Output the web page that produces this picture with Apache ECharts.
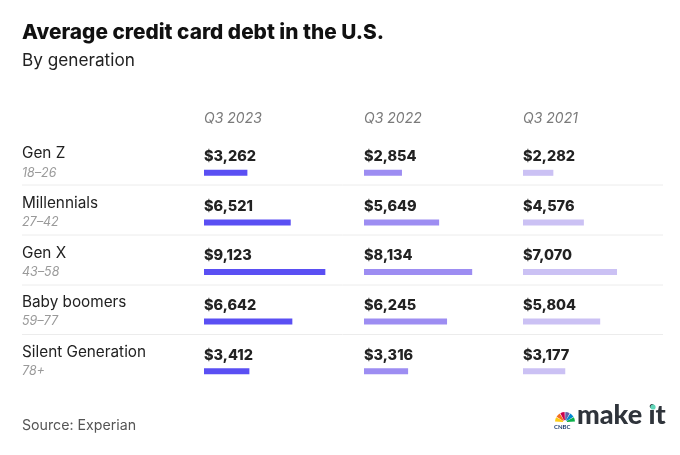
<!DOCTYPE html>
<html>
<head>
<meta charset="utf-8">
<script src="https://cdn.jsdelivr.net/npm/echarts@6/dist/echarts.min.js"></script>
<style>html,body{margin:0;padding:0;background:#fff}#c{width:680px;height:455px}</style>
</head>
<body>
<div id="c"></div>
<script>
const generations = ['Gen Z', 'Millennials', 'Gen X', 'Baby boomers', 'Silent Generation'];
const ages = ['18–26', '27–42', '43–58', '59–77', '78+'];
const periods = ['Q3 2023', 'Q3 2022', 'Q3 2021'];
const q3_2023 = [3262, 6521, 9123, 6642, 3412];
const q3_2022 = [2854, 5649, 8134, 6245, 3316];
const q3_2021 = [2282, 4576, 7070, 5804, 3177];
const seriesValues = [q3_2023, q3_2022, q3_2021];
const colors = ['#5a4ff3', '#9d8df2', '#cbc1f4'];

const FONT = 'Inter, Lato, sans-serif';
const gridLefts = [204, 364, 523];
const gridTop = 148, gridHeight = 248, gridWidth = 133;

const chart = echarts.init(document.getElementById('c'), null, {renderer: 'canvas'});

const grids = gridLefts.map(l => ({left: l, top: gridTop, width: gridWidth, height: gridHeight}));
const xAxes = gridLefts.map((l, i) => ({
  gridIndex: i, type: 'value', min: 0, max: 10000, show: false
}));
const yAxes = gridLefts.map((l, i) => ({
  gridIndex: i, type: 'category', data: generations, inverse: true,
  axisLine: {show: false}, axisTick: {show: false}, splitLine: {show: false},
  axisLabel: i === 0 ? {
    show: true, margin: 182, align: 'left', verticalAlign: 'middle',
    padding: [0, 0, 20, 0],
    formatter: (v, idx) => '{n|' + v + '}\n{a|' + ages[idx] + '}',
    rich: {
      n: {fontFamily: FONT, fontSize: 15.3, color: '#222', lineHeight: 20},
      a: {fontFamily: FONT, fontSize: 12.5, fontStyle: 'italic', color: '#9a9a9a', lineHeight: 18}
    }
  } : {show: false}
}));

const series = seriesValues.map((vals, i) => ({
  type: 'bar', xAxisIndex: i, yAxisIndex: i, data: vals, barWidth: 6,
  itemStyle: {color: colors[i]}, silent: true,
  label: {
    show: true, position: [0, -13], align: 'left', verticalAlign: 'middle',
    formatter: p => '$' + p.value.toLocaleString('en-US'),
    fontFamily: FONT, fontSize: 14.5, fontWeight: 800, color: '#222'
  }
}));

const titles = [
  {text: 'Average credit card debt in the U.S.', left: 22, top: 22, padding: 0,
   textStyle: {fontFamily: FONT, fontSize: 20.8, fontWeight: 800, color: '#111'}},
  {text: 'By generation', left: 22, top: 52, padding: 0,
   textStyle: {fontFamily: FONT, fontSize: 17.2, fontWeight: 'normal', color: '#222'}},
  {text: 'Source: Experian', left: 22, top: 419, padding: 0,
   textStyle: {fontFamily: FONT, fontSize: 14.2, fontWeight: 'normal', color: '#555'}}
].concat(periods.map((p, i) => ({
  text: p, left: gridLefts[i], top: 112, padding: 0,
  textStyle: {fontFamily: FONT, fontSize: 14, fontStyle: 'italic', fontWeight: 'normal', color: '#7a7a7a'}
})));

const sepYs = [185, 235, 285, 334.5];
const graphics = sepYs.map(y => ({
  type: 'line', shape: {x1: 22, y1: y, x2: 663, y2: y},
  style: {stroke: '#ececec', lineWidth: 1}
}));

// make it logo
const pc = ['#fccc12', '#f37021', '#cc004c', '#6460aa', '#0089d0', '#0db14b'];
const cx = 565, cy = 422;
for (let k = 0; k < 6; k++) {
  const a0 = Math.PI + k * Math.PI / 6;
  graphics.push({
    type: 'sector',
    shape: {cx: cx, cy: cy, r0: 2, r: 10, startAngle: a0 + 0.04, endAngle: a0 + Math.PI / 6 - 0.04},
    style: {fill: pc[k]}
  });
}
graphics.push({type: 'text', left: 554, top: 424,
  style: {text: 'CNBC', font: 'bold 6px Lato, sans-serif', fill: '#1d3c6e'}});
graphics.push({type: 'text', left: 577, top: 402,
  style: {text: 'make it', font: '900 27px Lato, sans-serif', fill: '#2f343b'}});
graphics.push({type: 'circle', shape: {cx: 653, cy: 407, r: 2.6}, style: {fill: '#5fd6b8'}});

chart.setOption({
  backgroundColor: '#fff',
  animation: false,
  title: titles,
  grid: grids,
  xAxis: xAxes,
  yAxis: yAxes,
  series: series,
  graphic: graphics
});
</script>
</body>
</html>
